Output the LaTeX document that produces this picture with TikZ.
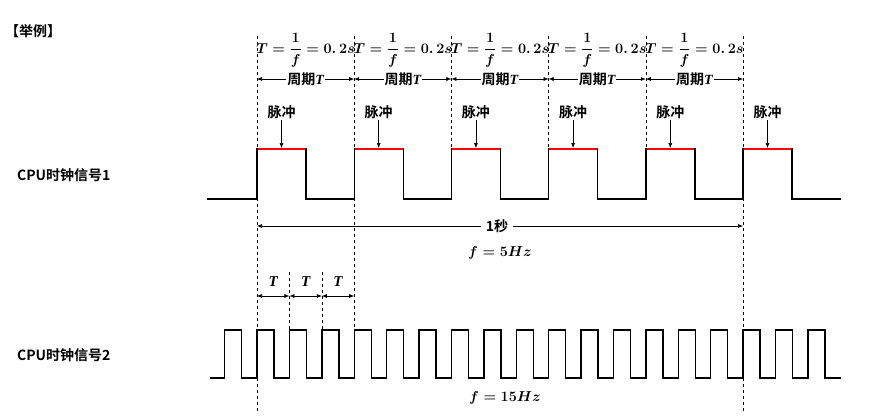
\documentclass[tikz,border=0pt]{standalone}
\usepackage{fontspec}
\usepackage{amsmath}
\setmainfont{Liberation Serif}
\newfontfamily\cjk{Noto Sans CJK SC}[BoldFont={Noto Sans CJK SC Bold}]
\newcommand{\itT}{{\rmfamily\bfseries\itshape T}}
\usetikzlibrary{arrows.meta}
\begin{document}
\begin{tikzpicture}[x=1pt,y=-1pt,
  sig/.style={line width=1.4pt,line join=miter},
  guide/.style={dashed,line width=0.6pt},
  dim/.style={{Latex[length=5pt,width=4pt]}-{Latex[length=5pt,width=4pt]},line width=0.6pt},
  lbl/.style={font=\cjk\bfseries\fontsize{14}{14}\selectfont,inner sep=1pt},
  frm/.style={font=\mathversion{bold}\fontsize{14}{14}\selectfont,inner sep=0pt}]
\useasboundingbox (0,0) rectangle (871,418);
\node[lbl,anchor=west] (ex) at (4,31) {【举例】};
\node[lbl,anchor=west] (c1) at (16,175) {CPU时钟信号1};
\node[lbl,anchor=west] (c2) at (16,355) {CPU时钟信号2};
% guides
\foreach \i in {0,...,5}{\coordinate (g\i) at ({257+97.2*\i},36);}
\draw[guide] (g0) -- ++(0,376);
\draw[guide] (g5) -- ++(0,376);
\draw[guide] (g1) -- ++(0,294);
\foreach \i in {2,3,4}{\draw[guide] (g\i) -- ++(0,113);}
\coordinate (t1) at (289.4,272); \coordinate (t2) at (321.8,272);
\draw[guide] (t1) -- ++(0,58);
\draw[guide] (t2) -- ++(0,58);
% signal 1
\draw[sig] (207,199) \foreach \i in {0,...,5}{ -- ({257+97.2*\i},199) -- ({257+97.2*\i},149) -- ({306+97.2*\i},149) -- ({306+97.2*\i},199)} -- (841,199);
\foreach \i in {0,...,5}{
  \draw[red,line width=2pt] ({257.7+97.2*\i},149) -- ({305.3+97.2*\i},149);
  \node[lbl] (p\i) at ({281.5+97.2*\i},112) {脉冲};
  \draw[-{Latex[length=5pt,width=4pt]},line width=0.6pt] (p\i.south) -- ({281.5+97.2*\i},148);
}
% period labels
\foreach \i in {0,...,4}{
  \node[frm] (f\i) at ({305.6+97.2*\i},50) {$T=\dfrac{1}{f}=0.\,2s$};
  \draw[dim] ({257+97.2*\i},79) -- ({354.2+97.2*\i},79);
  \node[lbl,fill=white,inner sep=1pt] (q\i) at ({305.6+97.2*\i},79) {周期\itT};
}
% 1 second
\draw[dim] (g0 |- 0,226) -- (g5 |- 0,226);
\node[lbl,fill=white,inner sep=5pt] (one) at (497,226) {1秒};
\node[frm,font=\mathversion{bold}\fontsize{15}{15}\selectfont] (f5) at (500,253) {$f=5Hz$};
% T marks
\foreach \a/\b/\n in {257/289.4/a,289.4/321.8/b,321.8/354.2/c}{
  \draw[dim] (\a,296) -- (\b,296);
  \node[frm,font=\fontsize{15}{15}\selectfont] (T\n) at ({(\a+\b)/2},282) {\itT};
}
% signal 2
\draw[sig] (210,378) \foreach \k in {0,...,18}{ -- ({224.6+32.4*\k},378) -- ({224.6+32.4*\k},330) -- ({241.6+32.4*\k},330) -- ({241.6+32.4*\k},378)} -- (841,378);
\node[frm,font=\mathversion{bold}\fontsize{15}{15}\selectfont] (f15) at (505,398) {$f=15Hz$};
\end{tikzpicture}
\end{document}
